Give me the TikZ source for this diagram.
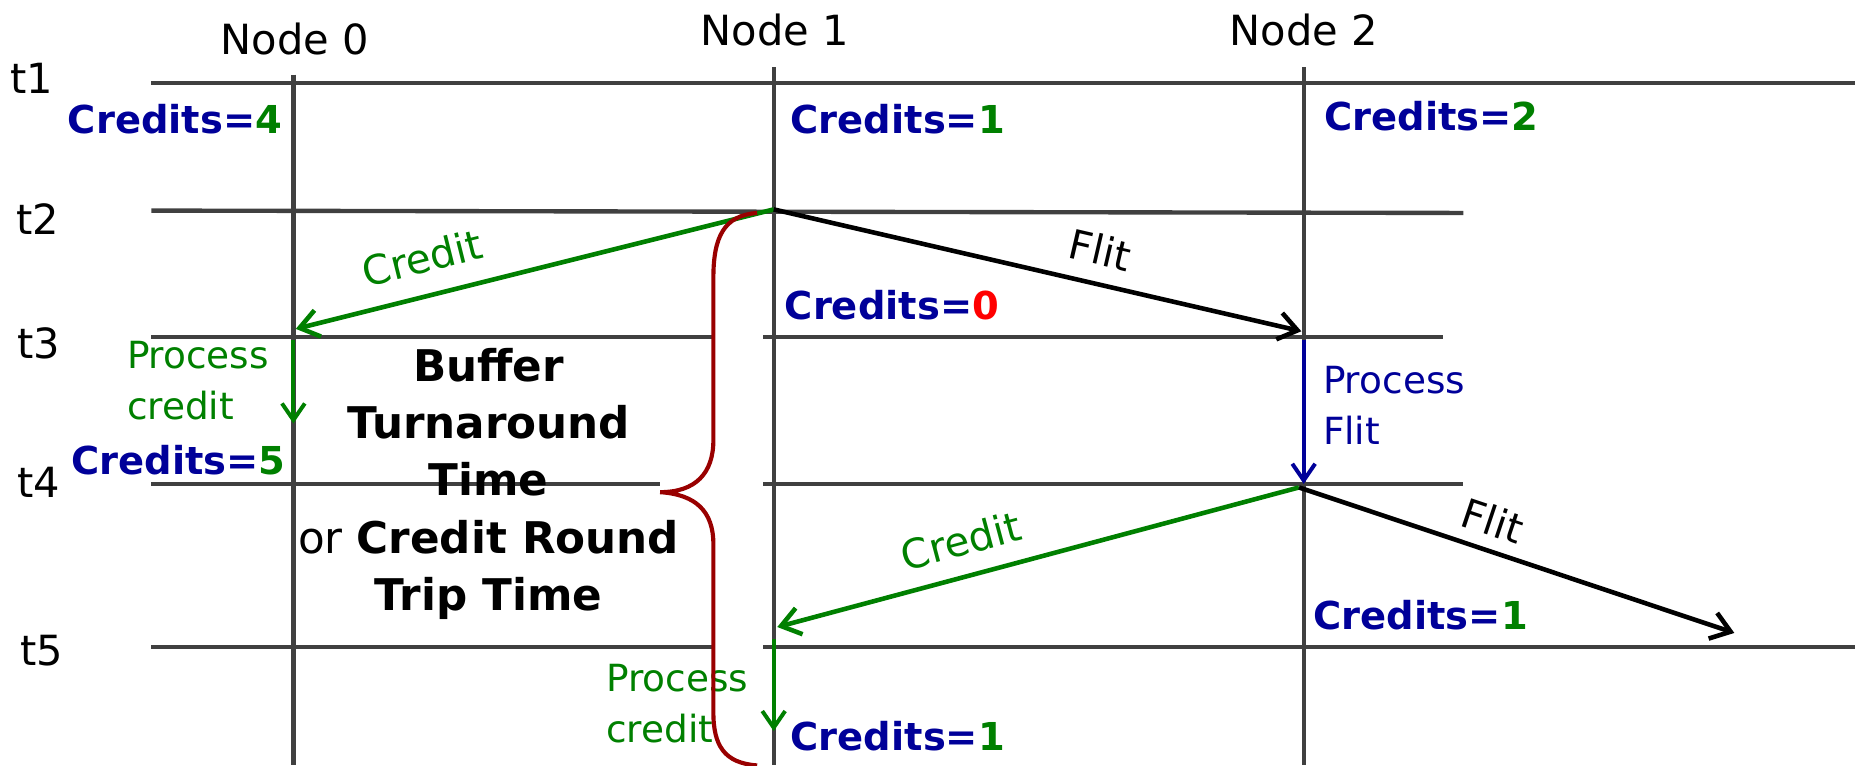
\documentclass[tikz,border=0pt]{standalone}
\usepackage{fontspec}
\setmainfont{DejaVu Sans}
\usetikzlibrary{arrows.meta}
\definecolor{navy}{RGB}{0,0,153}
\definecolor{dgreen}{RGB}{0,128,0}
\definecolor{bracered}{RGB}{153,0,0}
\definecolor{gridgray}{RGB}{64,64,64}
\newcommand\crd[2]{\textcolor{navy}{Credits=}\textcolor{#2}{#1}}
\tikzset{
  timeline/.style={draw=gridgray, line width=2.1pt},
  lifeline/.style={draw=gridgray, line width=2.1pt},
  head/.style={font=\fontsize{20}{24}\selectfont, inner sep=0pt},
  tlabel/.style={font=\fontsize{20}{24}\selectfont, inner sep=0pt},
  count/.style={font=\fontsize{18.5}{22}\selectfont\bfseries, inner sep=0pt, anchor=west},
  proc/.style={font=\fontsize{18}{24.5}\selectfont, inner sep=0pt, anchor=west, align=left},
  msglabel/.style={font=\fontsize{19.5}{22}\selectfont, inner sep=0pt},
  msg/.style={line width=2.2pt, -{Straight Barb[length=9pt,width=13pt]}},
  procarrow/.style={line width=1.9pt, -{Straight Barb[length=8pt,width=11pt]}},
}
\begin{document}
\begin{tikzpicture}[x=0.02cm,y=-0.02cm]
\useasboundingbox (0,0) rectangle (1568,647);

% node headings and time labels
\node[head] (h0) at (249,33) {Node 0};
\node[head] (h1) at (655,25) {Node 1};
\node[head] (h2) at (1102,25) {Node 2};
\node[tlabel] (t1) at (27,66) {t1};
\node[tlabel] (t2) at (32,185) {t2};
\node[tlabel] (t3) at (33,290) {t3};
\node[tlabel] (t4) at (33,408) {t4};
\node[tlabel] (t5) at (35,550) {t5};

% time lines
\draw[timeline] (128,70) -- (1568,70);
\draw[timeline] (128,178) -- (1237,180);
\draw[timeline] (128,285) -- (602,285);
\draw[timeline] (645,285) -- (1220,285);
\draw[timeline] (128,409) -- (558,409);
\draw[timeline] (645,409) -- (1237,409);
\draw[timeline] (128,547) -- (602,547);
\draw[timeline] (645,547) -- (1568,547);

% node life lines
\draw[lifeline] (248,63) -- (248,647);
\draw[lifeline] (654,57) -- (654,647);
\draw[lifeline] (1102,57) -- (1102,647);

% event points
\coordinate (a2) at (654,177);
\coordinate (b3) at (250,278);
\coordinate (c3) at (1100,280);
\coordinate (b3s) at (248,287);
\coordinate (b3e) at (248,358);
\coordinate (c3s) at (1102,287);
\coordinate (c4) at (1102,409);
\coordinate (c4o) at (1098,412);
\coordinate (a5) at (657,530);
\coordinate (f5) at (1466,535);
\coordinate (a5s) at (654,540);
\coordinate (a5e) at (654,618);

% messages
\draw[msg, dgreen] (a2) -- (b3);
\draw[msg, black] (a2) -- (c3);
\draw[procarrow, dgreen] (b3s) -- (b3e);
\draw[procarrow, navy] (c3s) -- (c4);
\draw[msg, dgreen] (c4o) -- (a5);
\draw[msg, black] (c4o) -- (f5);
\draw[procarrow, dgreen] (a5s) -- (a5e);

\node[msglabel, dgreen, rotate=14] (lc1) at (357,218) {Credit};
\node[msglabel, rotate=-13] (lf1) at (930,211) {Flit};
\node[msglabel, dgreen, rotate=15] (lc2) at (812,457) {Credit};
\node[msglabel, rotate=-18.5] (lf2) at (1262,440) {Flit};

% credit counters
\node[count] (k1) at (57,101) {\crd{4}{dgreen}};
\node[count] (k2) at (668,101) {\crd{1}{dgreen}};
\node[count] (k3) at (1119,98) {\crd{2}{dgreen}};
\node[count] (k4) at (663,258) {\crd{0}{red}};
\node[count] (k5) at (60,389) {\crd{5}{dgreen}};
\node[count] (k6) at (1110,520) {\crd{1}{dgreen}};
\node[count] (k7) at (668,622) {\crd{1}{dgreen}};

% processing labels
\node[proc, dgreen] (p0) at (107,322) {Process\\credit};
\node[proc, navy] (p2) at (1118,343) {Process\\Flit};
\node[proc, dgreen] (p1) at (512,595) {Process\\credit};

% round trip brace
\draw[bracered, line width=2pt] (640,180) .. controls (612,182) and (603,200) .. (603,235)
  -- (603,372) .. controls (603,400) and (588,416) .. (558,416)
  .. controls (588,418) and (603,432) .. (603,460)
  -- (603,602) .. controls (603,630) and (612,645) .. (640,647);

\node[font=\fontsize{21}{27.5}\selectfont, align=center, inner sep=0pt] (rt) at (413,409)
  {\textbf{Buffer}\\\textbf{Turnaround}\\\textbf{Time}\\or \textbf{Credit Round}\\\textbf{Trip Time}};
\end{tikzpicture}
\end{document}
